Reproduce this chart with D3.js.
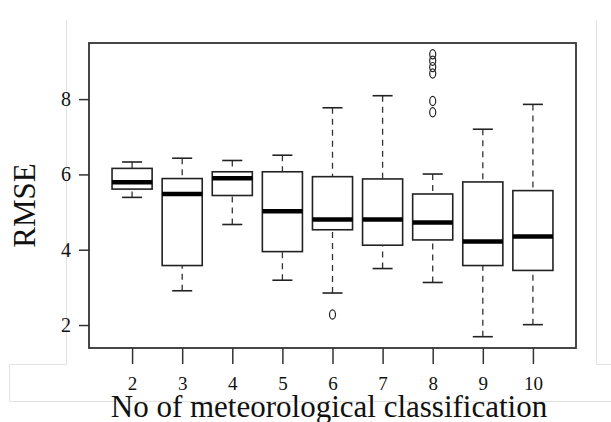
<!DOCTYPE html>
<html lang="en">
<head>
    <meta charset="UTF-8">
    <title>RMSE by number of meteorological classes</title>
    <script src="https://d3js.org/d3.v7.min.js"></script>
    <style>
        body {
            margin: 0;
            padding: 0;
            background-color: #ffffff;
        }
        svg {
            display: block;
            font-family: "Liberation Serif", "Times New Roman", serif;
        }
        .axis text {
            fill: #111111;
        }
        .axis line {
            stroke: #333333;
            stroke-width: 1.5;
        }
    </style>
</head>
<body>
    <svg></svg>

    <script>
        // boxplot statistics
        const classes = [2, 3, 4, 5, 6, 7, 8, 9, 10];
        const whiskerLow = [5.39, 2.91, 4.67, 3.19, 2.85, 3.50, 3.13, 1.69, 2.01];
        const lowerQuartile = [5.61, 3.58, 5.44, 3.95, 4.53, 4.12, 4.26, 3.58, 3.45];
        const medians = [5.79, 5.48, 5.90, 5.02, 4.80, 4.80, 4.72, 4.22, 4.35];
        const upperQuartile = [6.16, 5.89, 6.07, 6.07, 5.94, 5.88, 5.48, 5.80, 5.57];
        const whiskerHigh = [6.33, 6.43, 6.37, 6.51, 7.77, 8.09, 6.01, 7.20, 7.86];
        const outliers = [[], [], [], [], [2.28], [], [9.19, 9.02, 8.85, 8.68, 7.95, 7.65], [], []];
        const yTicks = [2, 4, 6, 8];

        const width = 611;
        const height = 422;
        const plot = { left: 89, right: 576, top: 43, bottom: 348 };

        const svg = d3.select("svg")
            .attr("width", width)
            .attr("height", height);

        const boxes = classes.map((c, i) => ({
            pos: i + 1,
            label: c,
            lo: whiskerLow[i],
            q1: lowerQuartile[i],
            med: medians[i],
            q3: upperQuartile[i],
            hi: whiskerHigh[i],
            out: outliers[i]
        }));

        // R style limits: half a slot each side, then 4% extension
        const xPad = (classes.length) * 0.04;
        const x = d3.scaleLinear()
            .domain([0.5 - xPad, classes.length + 0.5 + xPad])
            .range([plot.left, plot.right]);

        const allVals = boxes.flatMap(b => [b.lo, b.hi, ...b.out]);
        const yMin = d3.min(allVals), yMax = d3.max(allVals);
        const yPad = (yMax - yMin) * 0.04;
        const y = d3.scaleLinear()
            .domain([yMin - yPad, yMax + yPad])
            .range([plot.bottom, plot.top]);

        const boxHalf = (x(1.4) - x(1)) / 1;
        const capHalf = boxHalf / 2;

        // faint frame left over in the screenshot
        svg.append("path")
            .attr("d", "M66.5,20 V364.5 H9.5 V401.5 H611 M596.5,20 V364.5 H611")
            .attr("fill", "none")
            .attr("stroke", "#e2e2e2")
            .attr("stroke-width", 1);

        // axes
        svg.append("g")
            .attr("class", "axis")
            .attr("transform", `translate(${plot.left},0)`)
            .call(d3.axisLeft(y).tickValues(yTicks).tickSize(10).tickPadding(8))
            .call(g => g.select(".domain").remove())
            .selectAll("text")
            .style("font-size", "20px")
            .style("font-family", "Liberation Serif, serif");

        svg.append("g")
            .attr("class", "axis")
            .attr("transform", `translate(0,${plot.bottom})`)
            .call(d3.axisBottom(x)
                .tickValues(boxes.map(b => b.pos))
                .tickFormat((d, i) => classes[i])
                .tickSize(16)
                .tickPadding(13))
            .call(g => g.select(".domain").remove())
            .selectAll("text")
            .style("font-size", "19px")
            .style("font-family", "Liberation Serif, serif");

        const g = svg.append("g");

        const box = g.selectAll("g.box")
            .data(boxes)
            .enter().append("g")
            .attr("class", "box");

        // dashed whiskers
        box.append("line")
            .attr("x1", d => x(d.pos)).attr("x2", d => x(d.pos))
            .attr("y1", d => y(d.hi)).attr("y2", d => y(d.q3))
            .attr("stroke", "#333").attr("stroke-width", 1.3)
            .attr("stroke-dasharray", "6,5");
        box.append("line")
            .attr("x1", d => x(d.pos)).attr("x2", d => x(d.pos))
            .attr("y1", d => y(d.lo)).attr("y2", d => y(d.q1))
            .attr("stroke", "#333").attr("stroke-width", 1.3)
            .attr("stroke-dasharray", "6,5");

        // caps
        ["lo", "hi"].forEach(k => {
            box.append("line")
                .attr("x1", d => x(d.pos) - capHalf).attr("x2", d => x(d.pos) + capHalf)
                .attr("y1", d => y(d[k])).attr("y2", d => y(d[k]))
                .attr("stroke", "#222").attr("stroke-width", 1.6);
        });

        box.append("rect")
            .attr("x", d => x(d.pos) - boxHalf)
            .attr("width", boxHalf * 2)
            .attr("y", d => y(d.q3))
            .attr("height", d => y(d.q1) - y(d.q3))
            .attr("fill", "#ffffff")
            .attr("stroke", "#222")
            .attr("stroke-width", 1.6);

        box.append("line")
            .attr("x1", d => x(d.pos) - boxHalf).attr("x2", d => x(d.pos) + boxHalf)
            .attr("y1", d => y(d.med)).attr("y2", d => y(d.med))
            .attr("stroke", "#000").attr("stroke-width", 4.5);

        box.selectAll("ellipse")
            .data(d => d.out.map(v => ({ pos: d.pos, v })))
            .enter().append("ellipse")
            .attr("cx", d => x(d.pos))
            .attr("cy", d => y(d.v))
            .attr("rx", 3)
            .attr("ry", 4.6)
            .attr("fill", "none")
            .attr("stroke", "#222")
            .attr("stroke-width", 1.2);

        // plot frame
        svg.append("rect")
            .attr("x", plot.left)
            .attr("y", plot.top)
            .attr("width", plot.right - plot.left)
            .attr("height", plot.bottom - plot.top)
            .attr("fill", "none")
            .attr("stroke", "#333")
            .attr("stroke-width", 1.8);

        // axis titles
        svg.append("text")
            .attr("transform", "translate(35,205.5) rotate(-90)")
            .attr("text-anchor", "middle")
            .style("font-size", "31px")
            .style("fill", "#111")
            .text("RMSE");

        svg.append("text")
            .attr("x", 329)
            .attr("y", 417)
            .attr("text-anchor", "middle")
            .style("font-size", "31px")
            .style("fill", "#111")
            .text("No of meteorological classification");
    </script>
</body>
</html>
